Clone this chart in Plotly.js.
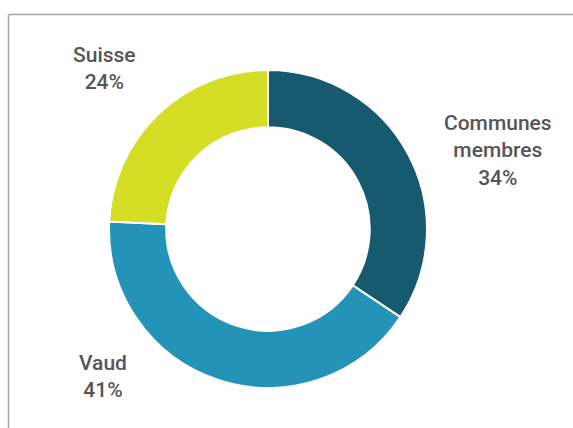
<!DOCTYPE html>
<html>
<head>
<meta charset="utf-8">
<script src="https://cdn.plot.ly/plotly-3.0.1.min.js"></script>
<style>html,body{margin:0;padding:0;background:#fff;}#chart{width:573px;height:428px;}</style>
</head>
<body>
<div id="chart"></div>
<script>
const categories = ["Communes membres", "Vaud", "Suisse"];
const labelLines = [["Communes", "membres"], ["Vaud"], ["Suisse"]];
const shares = [34, 41, 24];
const colors = ["#17596f", "#2493b8", "#d5de25"];
const labelPos = [[0.8691, 0.6495], [0.1798, 0.1192], [0.1832, 0.8388]];

const trace = {
  type: "pie",
  labels: categories,
  values: shares,
  hole: 0.64,
  sort: false,
  direction: "clockwise",
  rotation: 0,
  textinfo: "none",
  hoverinfo: "label+percent",
  marker: {colors: colors, line: {color: "#ffffff", width: 2}},
  domain: {x: [0.1885, 0.7469], y: [0.0935, 0.8364]},
  showlegend: false
};

const annotations = categories.map((c, i) => ({
  xref: "paper", yref: "paper",
  x: labelPos[i][0], y: labelPos[i][1],
  xanchor: "center", yanchor: "middle",
  showarrow: false,
  align: "center",
  text: labelLines[i].join("<br>") + "<br>" + shares[i] + "%",
  font: {family: "Roboto, sans-serif", size: 21, color: "#555555", weight: 500}
}));

const layout = {
  width: 573, height: 428,
  margin: {l: 0, r: 0, t: 0, b: 0},
  paper_bgcolor: "#ffffff",
  plot_bgcolor: "#ffffff",
  annotations: annotations,
  shapes: [
    {type: "line", xref: "paper", yref: "paper", x0: 8.5/573, x1: 1, y0: 1 - 14.5/428, y1: 1 - 14.5/428, line: {color: "#a6a6a6", width: 1.5}},
    {type: "line", xref: "paper", yref: "paper", x0: 8.5/573, x1: 8.5/573, y0: 1 - 14.5/428, y1: 0, line: {color: "#a6a6a6", width: 1.5}}
  ]
};

Plotly.newPlot("chart", [trace], layout, {displayModeBar: false, staticPlot: true});
</script>
</body>
</html>
